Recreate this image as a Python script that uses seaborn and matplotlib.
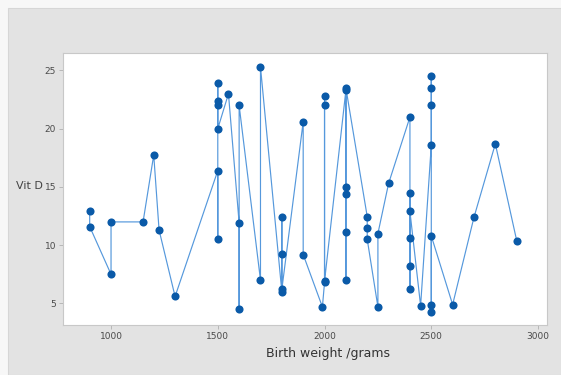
import matplotlib
matplotlib.use("Agg")
import matplotlib.pyplot as plt
import seaborn as sns
import pandas as pd
from matplotlib.patches import Rectangle

# Data (in plotting order)
birth_weight = [900, 900, 1000, 1000, 1150, 1200, 1225, 1300,
                1500, 1500, 1500, 1500, 1500, 1500, 1550,
                1600, 1600, 1600, 1700, 1700,
                1800, 1800, 1800, 1800, 1900, 1900, 1990,
                2000, 2000, 2000, 2000,
                2100, 2100, 2100, 2100, 2100, 2100,
                2200, 2200, 2200, 2250, 2250, 2300,
                2400, 2400, 2400, 2400, 2400, 2400, 2450,
                2500, 2500, 2500, 2500, 2500, 2500, 2500,
                2600, 2700, 2800, 2900]
vit_d = [12.9, 11.6, 7.5, 12.0, 12.0, 17.75, 11.3, 5.6,
         16.4, 10.5, 23.9, 22.4, 22.0, 20.0, 23.0,
         11.9, 4.5, 22.0, 7.0, 25.3,
         6.0, 12.45, 9.25, 6.2, 20.6, 9.2, 4.7,
         6.8, 22.8, 22.0, 6.9,
         23.3, 15.0, 14.4, 11.1, 7.0, 23.5,
         12.45, 11.5, 10.5, 4.7, 11.0, 15.3,
         21.0, 6.2, 8.2, 10.6, 14.5, 12.9, 4.8,
         18.6, 24.5, 23.5, 22.0, 4.3, 4.9, 10.8,
         4.9, 12.4, 18.7, 10.4]
x_ticks = [1000, 1500, 2000, 2500, 3000]
y_ticks = [5, 10, 15, 20, 25]

df = pd.DataFrame({"Birth weight": birth_weight, "Vit D": vit_d, "order": range(len(vit_d))})

sns.set_style("white")
W, H = 561, 375
fig = plt.figure(figsize=(W / 100, H / 100), dpi=100)
fig.patch.set_facecolor("#f7f7f7")
bg = Rectangle((8 / W, 0), 1 - 8 / W, 1 - 8 / H, transform=fig.transFigure,
               facecolor="#e3e3e3", edgecolor="#d6d6d6", lw=0.8, zorder=-10)
fig.patches.append(bg)

ax = fig.add_axes([63 / W, 1 - 325 / H, (547 - 63) / W, (325 - 53) / H])
ax.set_zorder(5)
ax.set_facecolor("white")

sns.lineplot(data=df, x="Birth weight", y="Vit D", sort=False, estimator=None,
             color="#5598dc", linewidth=0.85, ax=ax)
sns.scatterplot(data=df, x="Birth weight", y="Vit D", color="#0a5aa8",
                s=34, edgecolor="#0a5aa8", linewidth=0, ax=ax, zorder=3)

ax.set_xlim(775, 3042)
ax.set_ylim(3.15, 26.5)
ax.set_xticks(x_ticks)
ax.set_yticks(y_ticks)
ax.tick_params(axis="both", which="both", direction="out", length=3, width=0.6,
               color="#b0b0b0", labelsize=6.5, labelcolor="#4a4a4a", pad=2,
               bottom=True, left=True)
for s in ax.spines.values():
    s.set_color("#c8c8c8")
    s.set_linewidth(0.8)

ax.set_xlabel("")
ax.set_ylabel("")
fig.text(328 / W, 1 - 353 / H, "Birth weight /grams", ha="center", va="center",
         fontsize=9, color="#333333", zorder=6)
fig.text(43 / W, 1 - 186 / H, "Vit D", ha="right", va="center",
         fontsize=8, color="#444444", zorder=6)

fig.savefig("out.png", dpi=100, facecolor=fig.get_facecolor())
